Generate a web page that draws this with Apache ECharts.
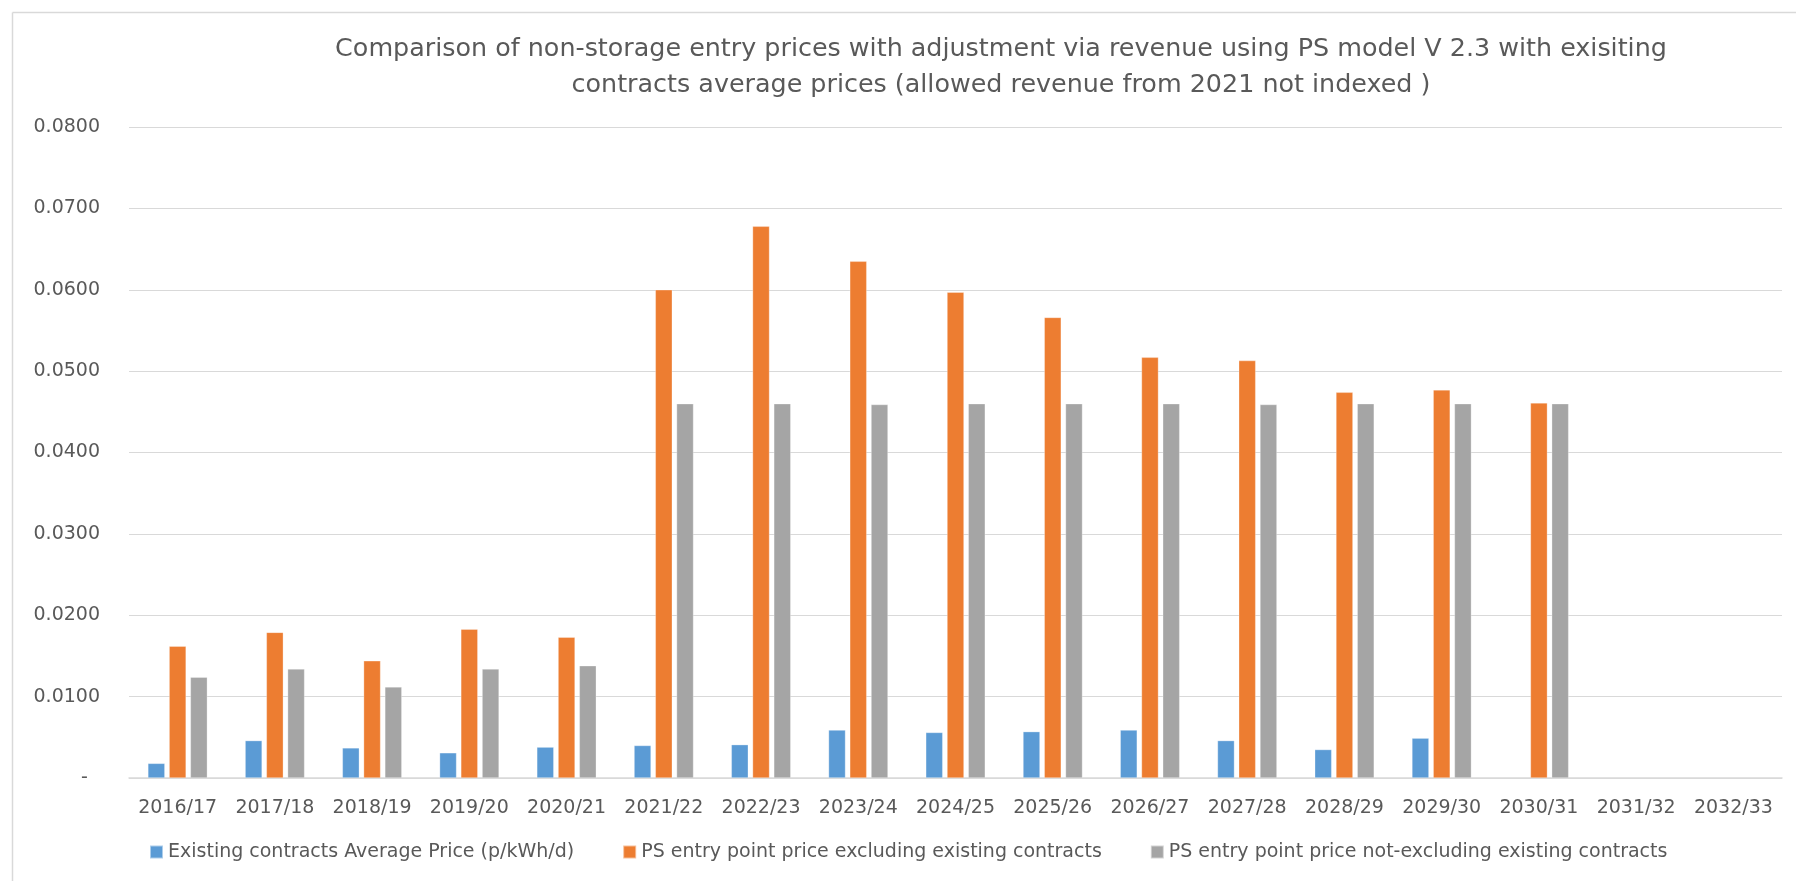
<!DOCTYPE html>
<html>
<head>
<meta charset="utf-8">
<script src="https://cdn.jsdelivr.net/npm/echarts@6/dist/echarts.min.js"></script>
<style>
  html, body { margin: 0; padding: 0; background: #fff; }
  #chart { width: 1796px; height: 881px; }
</style>
</head>
<body>
<div id="chart"></div>
<script>
const categories = ['2016/17','2017/18','2018/19','2019/20','2020/21','2021/22','2022/23','2023/24','2024/25','2025/26','2026/27','2027/28','2028/29','2029/30','2030/31','2031/32','2032/33'];
const existingAvg = [0.0018, 0.0046, 0.0037, 0.0031, 0.0038, 0.0040, 0.0041, 0.0059, 0.0056, 0.0057, 0.0059, 0.0046, 0.0035, 0.0049, null, null, null];
const psExcluding = [0.0162, 0.0179, 0.0144, 0.0183, 0.0173, 0.0600, 0.0678, 0.0635, 0.0597, 0.0566, 0.0517, 0.0513, 0.0474, 0.0477, 0.0461, null, null];
const psNotExcluding = [0.0124, 0.0134, 0.0112, 0.0134, 0.0138, 0.0460, 0.0460, 0.0459, 0.0460, 0.0460, 0.0460, 0.0459, 0.0460, 0.0460, 0.0460, null, null];
const seriesNames = ['Existing contracts Average Price (p/kWh/d)', 'PS entry point price excluding existing contracts', 'PS entry point price not-excluding existing contracts'];
const titleText = 'Comparison of non-storage entry prices with adjustment via revenue using PS model V 2.3 with exisiting\ncontracts average prices (allowed revenue from 2021 not indexed )';

const FONT = 'DejaVu Sans';
const TXT = '#595959';
const chart = echarts.init(document.getElementById('chart'), null, { renderer: 'canvas' });

function barSeries(name, data, color) {
  return {
    name: name, type: 'bar', data: data,
    barWidth: 17, barGap: '25%',
    itemStyle: { color: color, borderColor: 'rgba(255,255,255,0.5)', borderWidth: 0.6 },
    emphasis: { disabled: true }
  };
}

chart.setOption({
  animation: false,
  backgroundColor: '#fff',
  textStyle: { fontFamily: FONT },
  title: {
    text: titleText,
    left: 1001, top: 31, textAlign: 'center', padding: 0,
    textStyle: { fontFamily: FONT, fontSize: 25.4, fontWeight: 'normal', color: TXT, lineHeight: 36 }
  },
  legend: {
    data: seriesNames,
    left: 149, top: 841, padding: 0,
    itemWidth: 13, itemHeight: 13, itemGap: 48,
    icon: 'rect',
    textStyle: { fontFamily: FONT, fontSize: 19, color: TXT, lineHeight: 22 }
  },
  grid: { left: 129, right: 14, top: 127, bottom: 103 },
  xAxis: {
    type: 'category', data: categories,
    axisLine: { show: true, lineStyle: { color: '#D9D9D9', width: 1.5 } },
    axisTick: { show: false },
    axisLabel: { color: TXT, fontFamily: FONT, fontSize: 19, margin: 21, interval: 0 }
  },
  yAxis: {
    type: 'value', min: 0, max: 0.08, interval: 0.01,
    axisLine: { show: false }, axisTick: { show: false },
    splitLine: { lineStyle: { color: '#D9D9D9', width: 1.2 } },
    axisLabel: {
      color: TXT, fontFamily: FONT, fontSize: 19, margin: 29,
      formatter: function (v) { return Math.abs(v) < 1e-9 ? '-  ' : v.toFixed(4); }
    }
  },
  series: [
    barSeries(seriesNames[0], existingAvg, '#5B9BD5'),
    barSeries(seriesNames[1], psExcluding, '#ED7D31'),
    barSeries(seriesNames[2], psNotExcluding, '#A5A5A5')
  ],
  graphic: [
    { type: 'line', shape: { x1: 12.5, y1: 12.5, x2: 1796, y2: 12.5 }, style: { stroke: '#D9D9D9', lineWidth: 1.5 }, silent: true },
    { type: 'line', shape: { x1: 12.5, y1: 12.5, x2: 12.5, y2: 881 }, style: { stroke: '#D9D9D9', lineWidth: 1.5 }, silent: true }
  ]
});
</script>
</body>
</html>
